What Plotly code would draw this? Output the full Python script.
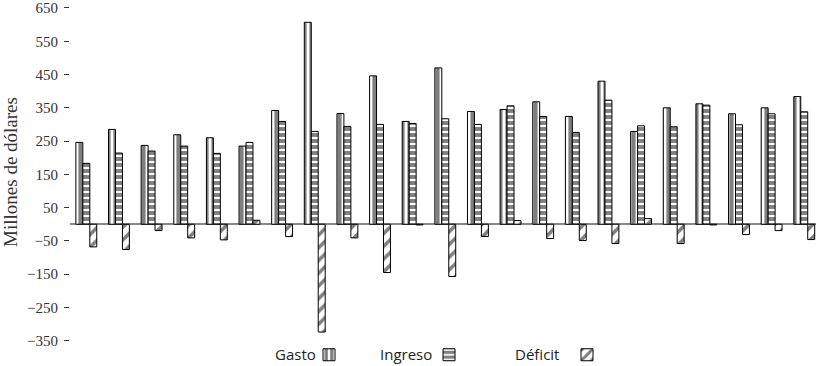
import plotly.graph_objects as go

periodos = ["P1", "P2", "P3", "P4", "P5", "P6", "P7", "P8", "P9", "P10", "P11", "P12",
            "P13", "P14", "P15", "P16", "P17", "P18", "P19", "P20", "P21", "P22", "P23"]
gasto = [246, 285, 237, 269, 260, 235, 342, 607, 333, 446, 309, 470,
         339, 345, 368, 324, 430, 279, 350, 362, 332, 350, 384]
ingreso = [183, 214, 220, 235, 213, 246, 309, 279, 294, 300, 303, 317,
           300, 356, 324, 276, 373, 296, 293, 358, 299, 332, 338]
deficit = [-68, -76, -19, -41, -47, 12, -37, -324, -41, -145, -2, -157,
           -37, 11, -43, -49, -58, 17, -58, -2, -31, -19, -46]
tick_vals = [-350, -250, -150, -50, 50, 150, 250, 350, 450, 550, 650]
nombres = ["Gasto", "Ingreso", "Déficit"]

W, H = 816, 366
L, R, T, B = 70, 0, 0, 22
pw, ph = W - L - R, H - T - B

fig = go.Figure()
line = dict(color="black", width=1)
fig.add_trace(go.Bar(x=periodos, y=gasto, name=" ", legend="legend",
                     marker=dict(color="white", line=line,
                                 pattern=dict(shape="|", size=7, solidity=0.6,
                                              fgcolor="black", bgcolor="white", fillmode="overlay"))))
fig.add_trace(go.Bar(x=periodos, y=ingreso, name=" ", legend="legend2",
                     marker=dict(color="white", line=line,
                                 pattern=dict(shape="-", size=6, solidity=0.65,
                                              fgcolor="black", bgcolor="white", fillmode="overlay"))))
fig.add_trace(go.Bar(x=periodos, y=deficit, name=" ", legend="legend3",
                     marker=dict(color="white", line=line,
                                 pattern=dict(shape="/", size=9, solidity=0.4,
                                              fgcolor="black", bgcolor="white", fillmode="overlay"))))

def px2x(p):
    return (p - L) / pw

def py2y(p):
    return (H - B - p) / ph

legfont = dict(family="Open Sans", size=15, color="#222")
leg_common = dict(orientation="h", bgcolor="rgba(0,0,0,0)", font=legfont,
                  yanchor="middle", xanchor="left", itemwidth=30, tracegroupgap=0)
label_x = [318, 434, 561]
swatch_x = [309, 429, 567]
for i, key in enumerate(["legend", "legend2", "legend3"]):
    fig.update_layout(**{key: dict(leg_common, x=px2x(swatch_x[i]), y=py2y(355))})
    fig.add_annotation(x=px2x(label_x[i]), y=py2y(354), xref="paper", yref="paper",
                       text=nombres[i], showarrow=False, xanchor="right", yanchor="middle",
                       font=legfont)

fig.update_layout(
    width=W, height=H,
    margin=dict(l=L, r=R, t=T, b=B, pad=0, autoexpand=False),
    paper_bgcolor="white", plot_bgcolor="white",
    barmode="group", bargap=0.36, bargroupgap=0,
    showlegend=True,
    xaxis=dict(showticklabels=False, ticks="", showgrid=False, zeroline=False,
               showline=False, range=[-0.5, 22.36], automargin=False),
    yaxis=dict(range=[-359.9, 674.0], tickvals=tick_vals, ticks="outside", ticklen=5,
               tickcolor="#333", showgrid=False, showline=False, automargin=False,
               ticklabelstandoff=3, ticklabeloverflow="allow",
               zeroline=True, zerolinecolor="#888", zerolinewidth=1.5,
               tickfont=dict(family="Liberation Serif", size=15, color="#333"),
               title=dict(text="Millones de dólares",
                          font=dict(family="Liberation Serif", size=19, color="#333"),
                          standoff=6)),
)

fig.write_html("out.html", config={"displayModeBar": False},
               post_script="document.body.style.margin='0px';")
